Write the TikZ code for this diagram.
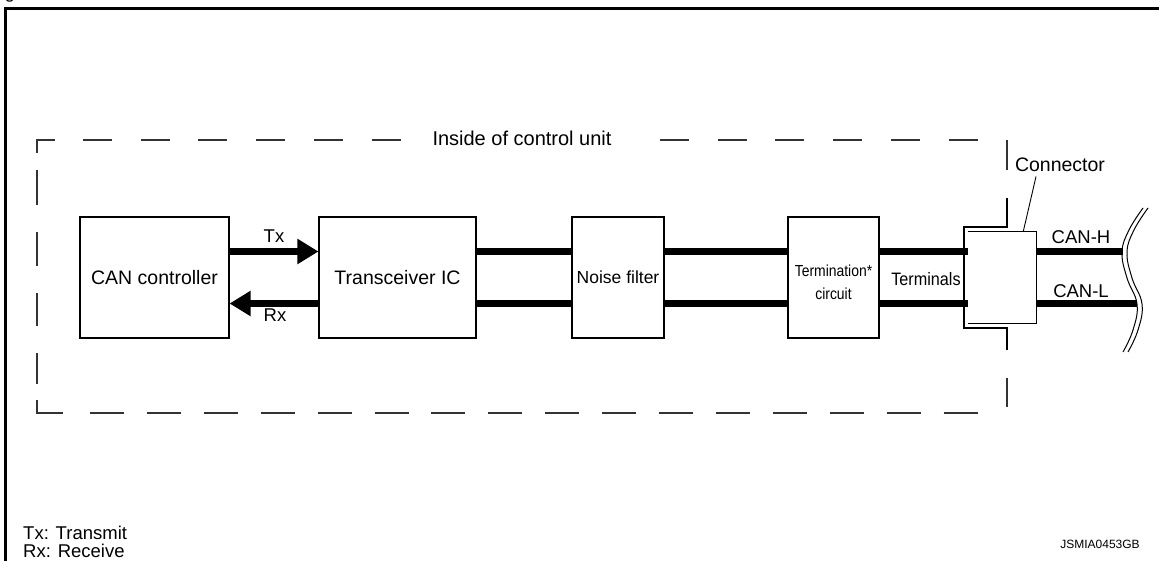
\documentclass[tikz,border=0pt]{standalone}
\usepackage{fontspec}
\setmainfont{Liberation Sans}
\usetikzlibrary{arrows.meta}
\begin{document}
\begin{tikzpicture}[x=1pt,y=-1pt,
  blk/.style={draw, line width=1.1pt, minimum height=121pt, inner sep=0pt, font=\fontsize{19.5}{22}\selectfont},
  wire/.style={line width=7pt},
  lbl/.style={font=\fontsize{18.5}{20}\selectfont, inner sep=0pt, anchor=base},
  dsh/.style={line width=1.3pt, draw=black!80},
  sig/.style={line width=7pt, -{Triangle[length=21pt,width=24pt]}},
  thin/.style={line width=1.1pt}]
\useasboundingbox (0,0) rectangle (1159,561);
% outer frame
\draw[line width=3pt] (5,561) -- (5,9) -- (1159,9);
\node[lbl, font=\fontsize{18}{20}\selectfont] (gfrag) at (10,-1) {g};
% dashed enclosure
\draw[dsh] (37,153) -- (37,140) -- (55,140);
\foreach \i in {0,...,5,10,11,12,13,14,15} \draw[dsh] ({83+57.7*\i},140) -- ++(29,0);
\foreach \a/\b in {170/205,232/266,293/326,353/384} \draw[dsh] (37,\a) -- (37,\b);
\draw[dsh] (37,400) -- (37,413) -- (63,413);
\foreach \i in {0,...,15} \draw[dsh] ({90+56.9*\i},413) -- ++(34,0);
\draw[dsh] (1007,140) -- (1007,170);
\draw[dsh] (1007,378) -- (1007,407);
\node[lbl, font=\fontsize{20}{22}\selectfont] (inside) at (522,146) {Inside of control unit};
% blocks
\node[blk, minimum width=149pt] (can) at (154.5,277.5) {CAN controller};
\node[blk, minimum width=157pt] (trx) at (397.5,277.5) {Transceiver IC};
\node[blk, minimum width=92pt, font=\fontsize{17.5}{20}\selectfont] (nf) at (618,277.5) {Noise filter};
\node[blk, minimum width=91pt] (term) at (833.5,277.5) {};
\node[lbl, font=\fontsize{16}{20}\selectfont, xscale=0.87] (termA) at (833.5,277) {Termination*};
\node[lbl, font=\fontsize{16}{20}\selectfont, xscale=0.87] (termB) at (833.5,300) {circuit};
% connector
\node[inner sep=0pt, minimum width=68pt, minimum height=91pt] (conn) at (1002,277.5) {};
\draw[thin] (1007,198) -- (1007,227) -- (964,227) -- (964,328) -- (1007,328) -- (1007,350);
\draw[thin] (conn.north west) -- (conn.north east) -- (conn.south east) -- (conn.south west);
\node[lbl, font=\fontsize{19.5}{22}\selectfont] (connlbl) at (1060,171.5) {Connector};
\draw[line width=0.9pt] ([xshift=-24pt,yshift=-5pt]connlbl.base) -- ([xshift=-13pt]conn.north east);
% wavy break
\draw[line width=1pt] plot[smooth, tension=0.7] coordinates {(1143,208) (1129,230) (1122,252) (1127,278) (1137,304) (1133,330) (1123,352)};
\draw[line width=1pt] plot[smooth, tension=0.7] coordinates {(1148,208) (1134,230) (1127,252) (1132,278) (1142,304) (1138,330) (1128,352)};
\coordinate (wh) at (1123,251.5);
\coordinate (wl) at (1137,303.5);
% signals
\draw[sig] ([yshift=26pt]can.east) -- ([yshift=26pt]trx.west);
\draw[sig] ([yshift=-26pt]trx.west) -- ([yshift=-26pt]can.east);
\node[lbl] (tx) at (274,243) {Tx};
\node[lbl] (rx) at (275,322) {Rx};
% wires
\draw[wire] ([yshift=26pt]trx.east) -- ([yshift=26pt]nf.west);
\draw[wire] ([yshift=-26pt]trx.east) -- ([yshift=-26pt]nf.west);
\draw[wire] ([yshift=26pt]nf.east) -- ([yshift=26pt]term.west);
\draw[wire] ([yshift=-26pt]nf.east) -- ([yshift=-26pt]term.west);
\draw[wire] ([yshift=26pt]term.east) -- ([yshift=26pt]conn.west);
\draw[wire] ([yshift=-26pt]term.east) -- ([yshift=-26pt]conn.west);
\draw[wire] ([yshift=26pt]conn.east) -- (wh);
\draw[wire] ([yshift=-26pt]conn.east) -- (wl);
\node[lbl, font=\fontsize{18}{20}\selectfont, xscale=0.9] (terms) at (926,286) {Terminals};
\node[lbl] (canh) at (1081,244) {CAN-H};
\node[lbl] (canl) at (1081,298) {CAN-L};
% legend
\node[lbl, anchor=base west] (legtx) at (23,539.5) {Tx: Transmit};
\node[lbl, anchor=base west] (legrx) at (23,557) {Rx: Receive};
\node[lbl, font=\fontsize{12}{14}\selectfont] (code) at (1100,548) {JSMIA0453GB};
\end{tikzpicture}
\end{document}
